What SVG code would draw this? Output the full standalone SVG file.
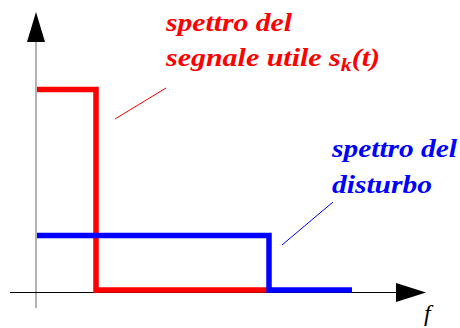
<svg xmlns="http://www.w3.org/2000/svg" width="460" height="328" viewBox="0 0 460 328">
<style>
.lbl{font-family:"Liberation Serif","Times New Roman",serif;font-weight:bold;font-style:italic;font-size:26px}
.red{fill:#ff0000}
.blue{fill:#0000ff}
.sig{fill:none;stroke-width:5.5;stroke-linecap:butt;stroke-linejoin:miter}
</style>
<rect width="460" height="328" fill="#ffffff"/>
<g id="axes">
<line x1="36" y1="40" x2="36" y2="308" stroke="#808080" stroke-width="1.2"/>
<polygon points="36,12 27,42 45,42" fill="#000000"/>
<line x1="10" y1="292.5" x2="398" y2="292.5" stroke="#000000" stroke-width="1.2"/>
<polygon points="426,292.5 396,283 396,302" fill="#000000"/>
<text x="424" y="321" font-family="Liberation Serif, serif" font-style="italic" font-size="24" fill="#000000">f</text>
</g>
<g id="signal-spectrum">
<polyline class="sig" stroke="#ff0000" points="37,89.5 96,89.5 96,293 96,290 268,290"/>
</g>
<g id="noise-spectrum">
<polyline class="sig" stroke="#0000ff" points="37,235.5 269,235.5 269,293 269,290 352,290"/>
</g>
<g id="connectors">
<line x1="166" y1="88" x2="115" y2="119" stroke="#ff0000" stroke-width="1"/>
<line x1="333" y1="202" x2="282" y2="245" stroke="#0000ff" stroke-width="1"/>
</g>
<g id="label-signal">
<text class="lbl red" x="166" y="31" textLength="126" lengthAdjust="spacingAndGlyphs">spettro del</text>
<text class="lbl red" x="166" y="66" textLength="214" lengthAdjust="spacingAndGlyphs">segnale utile s<tspan font-size="19" dy="5">k</tspan><tspan dy="-5">(t)</tspan></text>
</g>
<g id="label-noise">
<text class="lbl blue" x="332" y="157" textLength="125" lengthAdjust="spacingAndGlyphs">spettro del</text>
<text class="lbl blue" x="332" y="193" textLength="100" lengthAdjust="spacingAndGlyphs">disturbo</text>
</g>
</svg>
